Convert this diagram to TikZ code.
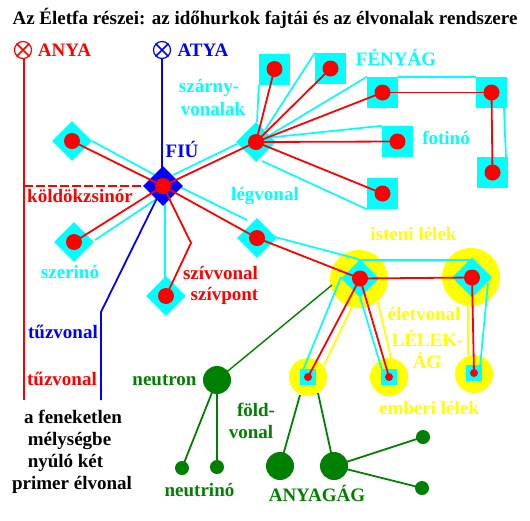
\documentclass[tikz,border=0pt]{standalone}
\usepackage{fontspec}
\setmainfont{Liberation Serif}[BoldFont={Liberation Serif Bold}]
\usetikzlibrary{shapes.geometric}
\definecolor{cy}{RGB}{0,255,255}
\definecolor{ye}{RGB}{255,255,0}
\definecolor{gr}{RGB}{0,128,0}
\definecolor{re}{RGB}{255,0,0}
\definecolor{bl}{RGB}{0,0,255}
\tikzset{
 x=1pt,y=-1pt,
 lab/.style={font=\bfseries\fontsize{19}{21}\selectfont,inner sep=0pt,anchor=center,text height=12pt,text depth=2pt},
 dia/.style={diamond,fill=cy,inner sep=0pt,minimum size=40pt,anchor=center},
 sq/.style={rectangle,fill=cy,inner sep=0pt,minimum size=31pt,anchor=center},
 smsq/.style={rectangle,fill=cy,inner sep=0pt,minimum size=16pt,anchor=center},
 halo/.style={circle,fill=ye,inner sep=0pt,minimum size=38pt,anchor=center},
 bighalo/.style={circle,fill=ye,inner sep=0pt,minimum size=58pt,anchor=center},
 rd/.style={circle,fill=re,inner sep=0pt,minimum size=16pt,anchor=center},
 srd/.style={circle,fill=re,inner sep=0pt,minimum size=8pt,anchor=center},
 gbig/.style={circle,fill=gr,inner sep=0pt,minimum size=28pt,anchor=center},
 gsm/.style={circle,fill=gr,inner sep=0pt,minimum size=14pt,anchor=center},
 rline/.style={draw=re,line width=1.8pt},
 cline/.style={draw=cy,line width=1.7pt},
 yline/.style={draw=ye,line width=1.8pt},
 gline/.style={draw=gr,line width=1.8pt},
 bline/.style={draw=bl,line width=1.8pt},
 knot/.style={circle,draw=#1,line width=1.2pt,inner sep=0pt,minimum size=17pt,anchor=center}
}
\begin{document}
\begin{tikzpicture}
\useasboundingbox (0,0) rectangle (530,520);
\fill[white] (0,0) rectangle (530,520);
% halos
\node[bighalo] (H1) at (359,279) {};
\node[bighalo] (H2) at (471,277) {};
\node[halo] (h1) at (308,377) {};
\node[halo] (h2) at (389,377) {};
\node[halo] (h3) at (474,374) {};
% anchors
\coordinate (F) at (163,186);
\coordinate (W) at (256,142);
\coordinate (L) at (257,238);
\coordinate (I1) at (360,278.5);
\coordinate (I2) at (472,277.5);
% yellow lines
\draw[yline] (352,307) -- (324,365);
\draw[yline] (378,302) -- (391,358);
\draw[yline] (468,305) -- (468,355);
% squares
\node[sq] (s1) at (274.5,69) {};
\node[sq] (s2) at (330.5,68.5) {};
\node[sq] (s3) at (382.5,92.5) {};
\node[sq] (s4) at (491.5,92.5) {};
\node[sq] (s5) at (492.5,172.5) {};
\node[sq] (s6) at (397.5,141.5) {};
\node[sq] (s7) at (382.5,193.5) {};
% cyan lines
\draw[cline] (92,141) -- (155,175);
\draw[cline] (95,240) -- (155,200);
\draw[cline] (173,175) -- (237,144);
\draw[cline] (180,187) -- (247,220);
\draw[cline] (165,200) -- (165,280);
\draw[cline] (257,122) -- (s1.south west);
\draw[cline] (265,130) -- (s2.north west);
\draw[cline] (265,138) -- (s3.north west);
\draw[cline] (265,138) -- (s6.north west);
\draw[cline] (262,161) -- (s7.south west);
\draw[cline] (s3.north east) -- (s4.north west);
\draw[cline] (504,108) -- (505,135) -- (506,157);
\draw[cline] (275,237) -- (358,259);
\draw[cline] (358,260) -- (472,260);
\draw[cline] (341,277) -- (303,370);
\draw[cline] (360,297) -- (382,370);
\draw[cline] (488,283) -- (480,367);
% icons and main lines
\node[knot=re] (anya) at (23,50) {};
\node[knot=bl] (atya) at (162,50) {};
\draw[re,line width=1.6pt] (anya.north west) -- (anya.south east) (anya.north east) -- (anya.south west);
\draw[bl,line width=1.6pt] (atya.north west) -- (atya.south east) (atya.north east) -- (atya.south west);
\coordinate (anyaEnd) at (24,400);
\coordinate (tuzEnd) at (101,400);
\draw[rline] (anya.south) ++(1,0) -- (anyaEnd);
\draw[bline] (atya.south) -- (162,170);
\draw[bline] (F) -- (101,312) -- (tuzEnd);
\draw[rline,dash pattern=on 9pt off 3pt] (24,186) -- (150,186);
% diamonds
\node[diamond,fill=bl,inner sep=0pt,minimum size=40pt,anchor=center] (fiu) at (F) {};
\node[dia] (d1) at (72,141) {};
\node[dia] (d2) at (74,242) {};
\node[dia] (d3) at (W) {};
\node[dia] (d4) at (L) {};
\node[dia] (d5) at (166,296) {};
\node[dia,minimum size=38pt] (d6) at (I1) {};
\node[dia] (d7) at (I2) {};
\node[smsq] (q1) at (308,377) {};
\node[smsq] (q2) at (389,377) {};
\node[smsq] (q3) at (474,373) {};
% red dots
\node[rd] (c0) at (F) {};
\node[rd] (c1) at (d1) {};
\node[rd] (c2) at (d2) {};
\node[rd] (c3) at (W) {};
\node[rd] (c4) at (L) {};
\node[rd] (c5) at (d5) {};
\node[rd] (c6) at (I1) {};
\node[rd] (c7) at (I2) {};
\node[rd] (r1) at (s1) {};
\node[rd] (r2) at (s2) {};
\node[rd] (r3) at (s3) {};
\node[rd] (r4) at (s4) {};
\node[rd] (r5) at (s5) {};
\node[rd] (r6) at (s6) {};
\node[rd] (r7) at (s7) {};
\node[srd] (p1) at (q1) {};
\node[srd] (p2) at (q2) {};
\node[srd] (p3) at (q3) {};
% red lines
\draw[rline] (c0.center) -- (c1.center);
\draw[rline] (c0.center) -- (c2.center);
\draw[rline] (c0.center) -- (c3.center);
\draw[rline] (c0.center) -- (c4.center);
\draw[rline] (c4.center) -- (c6.center);
\draw[rline] (c0.center) -- (191,243) -- (c5.center);
\draw[rline] (c3.center) -- (r1.center);
\draw[rline] (c3.center) -- (r2.center);
\draw[rline] (c3.center) -- (r3.center);
\draw[rline] (c3.center) -- (r6.center);
\draw[rline] (c3.center) -- (r7.center);
\draw[rline] (r3.center) -- (r4.center);
\draw[rline] (r4.center) -- (r5.center);
\draw[rline] (c6.center) -- (c7.center);
\draw[rline] (c7.center) -- (p3.center);
\draw[rline] (c6.center) -- (p1.center);
\draw[rline] (c6.center) -- (p2.center);
% green
\node[gbig] (n) at (217,380) {};
\node[gsm] (n1) at (182,468) {};
\node[gsm] (n2) at (217,467) {};
\node[gbig] (a1) at (280,466) {};
\node[gbig] (a2) at (334,466) {};
\node[gsm] (a3) at (423,437) {};
\node[gsm] (a4) at (422,488) {};
\draw[gline] (n.center) -- (n1.center);
\draw[gline] (n.center) -- (n2.center);
\draw[gline,line width=1.4pt] (n.center) -- (332,285);
\draw[gline] (300,395) -- (a1.center);
\draw[gline] (318,393) -- (a2.center);
\draw[gline] (a2.center) -- (a3.center);
\draw[gline] (a2.center) -- (a4.center);
% labels
\node[lab] (title) at (265,19) {Az Életfa részei: az időhurkok fajtái és az élvonalak rendszere};
\node[lab,text=re] (tanya) at (64.5,51) {ANYA};
\node[lab,text=bl] (tatya) at (203,51) {ATYA};
\node[lab,text=cy] (t1) at (209,87) {szárny-};
\node[lab,text=cy] (t2) at (213,110) {vonalak};
\node[lab,text=bl] (t3) at (182,152) {FIÚ};
\node[lab,text=re] (t4) at (80,197) {köldökzsinór};
\node[lab,text=cy] (t5) at (265,195) {légvonal};
\node[lab,text=cy] (t6) at (70,273) {szerinó};
\node[lab,text=re] (t7) at (220.5,274) {szívvonal};
\node[lab,text=re] (t8) at (224.5,295) {szívpont};
\node[lab,text=cy] (t9) at (396,60) {FÉNYÁG};
\node[lab,text=cy] (t10) at (446,139) {fotinó};
\node[lab,text=ye] (t11) at (413.5,235) {isteni lélek};
\node[lab,text=ye] (t12) at (424,315) {életvonal};
\node[lab,text=ye] (t13) at (427.5,341) {LÉLEK-};
\node[lab,text=ye] (t14) at (427,363) {ÁG};
\node[lab,text=ye] (t15) at (429,409) {emberi lélek};
\node[lab,text=bl] (t16) at (63,333) {tűzvonal};
\node[lab,text=re] (t17) at (62,380) {tűzvonal};
\node[lab,text=gr] (t18) at (164.5,380) {neutron};
\node[lab,text=gr] (t19) at (199.5,491) {neutrinó};
\node[lab,text=gr] (t20) at (256,411) {föld-};
\node[lab,text=gr] (t21) at (251,433) {vonal};
\node[lab,text=gr] (t22) at (317,496) {ANYAGÁG};
\node[lab] (t23) at (73,418) {a feneketlen};
\node[lab] (t24) at (69.5,440) {mélységbe};
\node[lab] (t25) at (65.5,462) {nyúló két};
\node[lab] (t26) at (72,484) {primer élvonal};
\end{tikzpicture}
\end{document}
